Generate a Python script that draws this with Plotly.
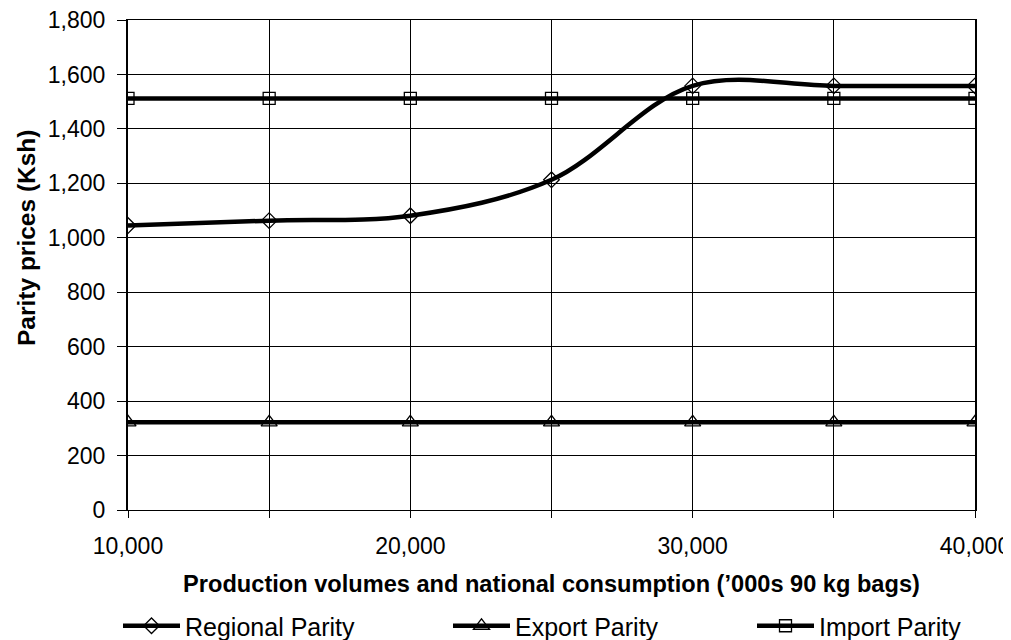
import plotly.graph_objects as go

volumes = [10000, 15000, 20000, 25000, 30000, 35000, 40000]
regional = [1045, 1063, 1081, 1213, 1558, 1558, 1558]
export_p = [322, 322, 322, 322, 322, 322, 322]
import_p = [1512, 1512, 1512, 1512, 1512, 1512, 1512]

x_tickvals = [10000, 15000, 20000, 25000, 30000, 35000, 40000]
x_ticktext = ["10,000", "", "20,000", "", "30,000", "", "40,000"]
y_tickvals = list(range(0, 1801, 200))

font_family = "Liberation Sans, Arial, sans-serif"
# page body has an 8px default margin, so the figure is offset to compensate
OFF = 8
W, H = 1011 - OFF, 640 - OFF
PLOT_L, PLOT_R, PLOT_T, PLOT_B = 128, 975, 20, 510

fig = go.Figure()
fig.add_trace(go.Scatter(
    x=volumes, y=regional, name="Regional Parity", mode="lines+markers", legend="legend",
    line=dict(color="black", width=4.5, shape="spline", smoothing=1.0),
    marker=dict(symbol="diamond-open", size=12, color="black", line=dict(width=1.3))))
fig.add_trace(go.Scatter(
    x=volumes, y=export_p, name="Export Parity", mode="lines+markers", legend="legend2",
    line=dict(color="black", width=4.5),
    marker=dict(symbol="triangle-up-open", size=14, color="black", line=dict(width=1.3))))
fig.add_trace(go.Scatter(
    x=volumes, y=import_p, name="Import Parity", mode="lines+markers", legend="legend3",
    line=dict(color="black", width=4.5),
    marker=dict(symbol="square-open", size=12, color="black", line=dict(width=1.3))))

leg_common = dict(orientation="h", xref="container", yref="container",
                  xanchor="left", yanchor="middle", y=1 - (626 - OFF) / H,
                  font=dict(size=25), itemwidth=57, bgcolor="rgba(0,0,0,0)")

fig.update_layout(
    width=W, height=H,
    margin=dict(l=PLOT_L - OFF, r=1011 - PLOT_R, t=PLOT_T - OFF, b=640 - PLOT_B, autoexpand=False),
    paper_bgcolor="white", plot_bgcolor="white",
    font=dict(family=font_family, size=23, color="black"),
    showlegend=True,
    legend=dict(x=(118 - OFF) / W, **leg_common),
    legend2=dict(x=(448 - OFF) / W, **leg_common),
    legend3=dict(x=(752 - OFF) / W, **leg_common),
    xaxis=dict(range=[10000, 40000], tickvals=x_tickvals, ticktext=x_ticktext,
               showgrid=True, gridcolor="black", gridwidth=1,
               showline=True, linecolor="black", linewidth=1, mirror=True,
               ticks="outside", ticklen=7, tickcolor="black", ticklabelstandoff=8,
               ticklabeloverflow="allow", automargin=False,
               title=dict(text="<b>Production volumes and national consumption (’000s 90 kg bags)</b>",
                          font=dict(size=23.6), standoff=17),
               zeroline=False),
    yaxis=dict(range=[0, 1800], tickvals=y_tickvals, tickformat=",",
               showgrid=True, gridcolor="black", gridwidth=1,
               showline=True, linecolor="black", linewidth=2, mirror=True,
               ticks="outside", ticklen=9, tickcolor="black", ticklabelstandoff=7,
               ticklabeloverflow="allow", automargin=False,
               zeroline=False),
    annotations=[dict(text="<b>Parity prices (Ksh)</b>", textangle=-90,
                      xref="paper", yref="paper", x=0, xshift=-(PLOT_L - 26),
                      y=(PLOT_B - 238) / (PLOT_B - PLOT_T), xanchor="center", yanchor="middle",
                      showarrow=False, font=dict(size=24.5))],
)

fig.write_html("out.html")
